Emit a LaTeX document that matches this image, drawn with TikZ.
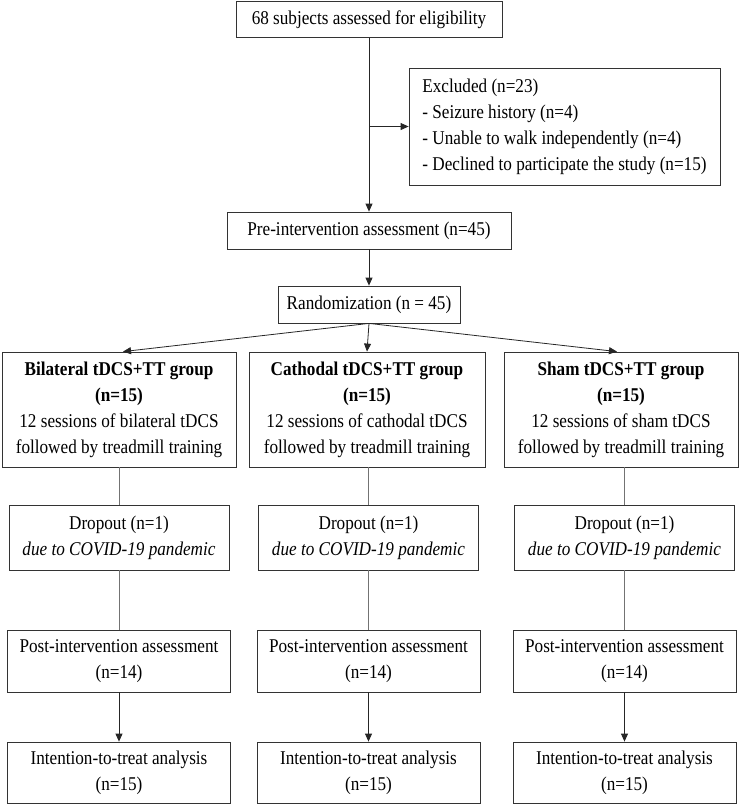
\documentclass[tikz,border=0pt]{standalone}
\usepackage{fontspec}
\setmainfont[FakeStretch=0.88]{Liberation Serif}
\usetikzlibrary{arrows.meta}
\tikzset{flow box/.style={draw=black!80, line width=0.8pt, inner sep=0pt,
      align=center, font=\fontsize{19.5}{26}\selectfont},
   flow arrow/.style={draw=black!85, line width=0.8pt,
      -{Triangle[length=8pt,width=7pt]}},
   flow line/.style={draw=black!55, line width=0.8pt}
}
% one study arm: name, x of group box, group width, x of lower boxes, title, kind
\def\Arm#1#2#3#4#5#6{%
\node[flow box, minimum width=#3, minimum height=115pt] (group#1) at (#2,409.5)
   {\textbf{#5 tDCS+TT group}\\\textbf{(n=15)}\\12 sessions of #6 tDCS\\followed by treadmill training};
\node[flow box, minimum width=220pt, minimum height=65pt] (drop#1) at (#4,537.5)
   {Dropout (n=1)\\\textit{due to COVID-19 pandemic}};
\node[flow box, minimum width=223pt, minimum height=62pt] (post#1) at (#4,661)
   {Post-intervention assessment\\(n=14)};
\node[flow box, minimum width=223pt, minimum height=61pt] (itt#1) at (#4,772.5)
   {Intention-to-treat analysis\\(n=15)};
\draw[flow line] (drop#1.north |- group#1.south) -- (drop#1.north);
\draw[flow line] (drop#1.south) -- (post#1.north);
\draw[flow arrow] (post#1.south) -- (itt#1.north);
}

\begin{document}
\begin{tikzpicture}[x=1pt, y=-1pt]
\useasboundingbox (0,0) rectangle (740,804);

\node[flow box, minimum width=266pt, minimum height=36pt] (assessed) at (369,19.5)
   {68 subjects assessed for eligibility};
\node[flow box, minimum width=311pt, minimum height=117pt, align=left] (excluded)
   at (564.5,126.5)
   {Excluded (n=23)\\- Seizure history (n=4)\\- Unable to walk independently (n=4)\\- Declined to participate the study (n=15)};
\node[flow box, minimum width=284pt, minimum height=37pt] (pre) at (369,230.5)
   {Pre-intervention assessment (n=45)};
\node[flow box, minimum width=182pt, minimum height=37pt] (random) at (369,304.5)
   {Randomization (n = 45)};

\draw[flow arrow] (assessed.south) -- (pre.north);
\draw[flow arrow] (assessed.south |- excluded.west) -- (excluded.west);
\draw[flow arrow] (pre.south) -- (random.north);

\Arm{A}{119}{234pt}{119}{Bilateral}{bilateral}
\Arm{B}{367}{236pt}{368.5}{Cathodal}{cathodal}
\Arm{C}{621}{234pt}{624.5}{Sham}{sham}

\draw[flow arrow] (random.south) -- ([xshift=4pt]groupA.north);
\draw[flow arrow] (random.south) -- (groupB.north);
\draw[flow arrow] (random.south) -- ([xshift=-4pt]groupC.north);
\end{tikzpicture}
\end{document}
